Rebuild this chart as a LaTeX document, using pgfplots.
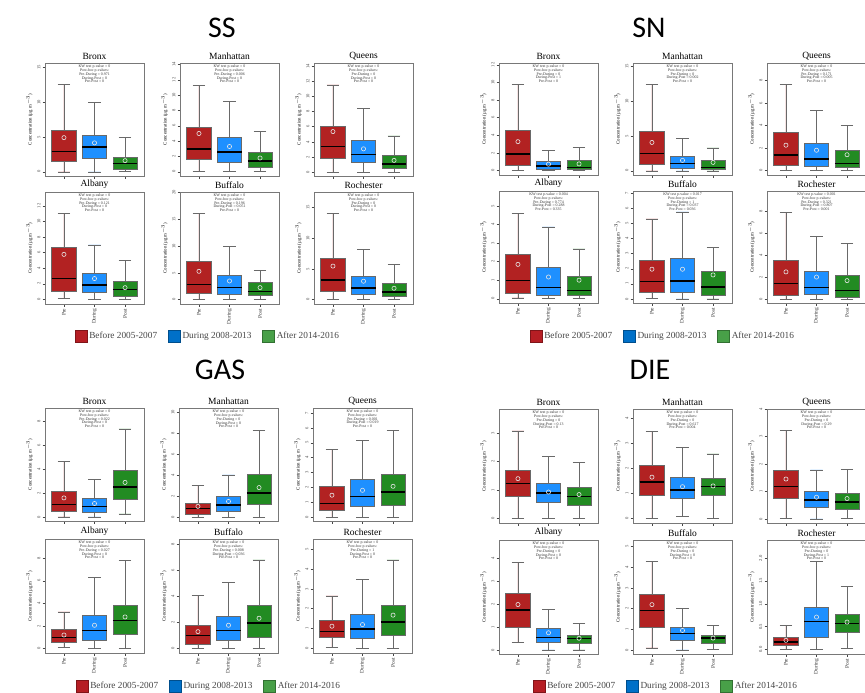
\documentclass[border=0pt]{standalone}
\usepackage{fontspec}
\setmainfont{Liberation Serif}
\newfontfamily\tfont{Carlito}
\usepackage{pgfplots}
\pgfplotsset{compat=1.18}
\usepgfplotslibrary{statistics}
\definecolor{cred}{RGB}{178,34,34}
\definecolor{cblue}{RGB}{30,144,255}
\definecolor{cgreen}{RGB}{34,139,34}
\definecolor{lred}{RGB}{182,30,36}
\definecolor{lblue}{RGB}{0,112,200}
\definecolor{lgreen}{RGB}{72,160,72}
\definecolor{boxgray}{RGB}{105,105,105}
\definecolor{framegray}{RGB}{120,120,120}
\definecolor{tickgray}{RGB}{70,70,70}
\definecolor{meangray}{RGB}{230,230,230}
\definecolor{legtext}{RGB}{70,70,70}

\pgfplotsset{
  sub/.style={scale only axis, anchor=south west, xmin=0.38, xmax=3.62, xtick={1,2,3}, clip=false,
    axis line style={draw=framegray, line width=0.7pt},
    tick align=outside, major tick length=2.5pt, tick style={draw=tickgray, line width=0.45pt},
    xtick pos=lower, ytick pos=left,
    yticklabel style={rotate=90, font=\fontsize{4.6}{5}\selectfont, text=tickgray, inner sep=2pt},
    ylabel={Concentration (µg m$^{-3}$)}, ylabel style={font=\fontsize{4.8}{5}\selectfont, yshift=-1pt},
    title style={font=\fontsize{9.5}{10}\selectfont, inner sep=0pt, yshift=-3pt},
    scaled y ticks=false, /pgf/number format/assume math mode=true},
  pos/.style n args={4}{at={(#1pt,-#2pt)}, width=#3pt, height=#4pt},
  top/.style={xticklabels={}},
  bot/.style={xticklabels={Pre,During,Post}, xticklabel style={rotate=90, anchor=east, font=\fontsize{5.4}{5}\selectfont, text=black!80, inner sep=2pt}},
}

% position, colour, lower whisker, Q1, median, Q3, upper whisker, mean
\newcommand{\bx}[8]{%
\addplot[draw=boxgray, fill=#2, line width=0.6pt, boxplot prepared={draw direction=y, draw position=#1, lower whisker=#3, lower quartile=#4, median=#5, upper quartile=#6, upper whisker=#7, box extend=0.8, whisker extend=0.4, every median/.style={draw=black, line width=1.4pt}}] coordinates {};
\addplot[only marks, mark=o, mark size=2.1pt, mark options={draw=meangray, line width=0.6pt}] coordinates {(#1,#8)};}

\newcommand{\pv}[4]{\node[font=\fontsize{3.9}{3.8}\selectfont, align=center, anchor=north, inner sep=0pt, text=black!80] at (rel axis cs:0.5,0.985) {KW test p-value = #1\\Post-hoc p-values:\\Pre-During = #2\\During-Post = #3\\Pre-Post = #4};}

\newcommand{\leg}[2]{%
\begin{axis}[hide axis, scale only axis, width=1pt, height=1pt, at={(#1pt,-#2pt)}, anchor=center, xmin=0, xmax=1, ymin=0, ymax=1,
  legend columns=3, legend style={at={(0.5,0.5)}, anchor=center, draw=none, fill=none, font=\fontsize{9.3}{10}\selectfont, text=legtext, inner sep=0pt, /tikz/every even column/.append style={column sep=9pt}},
  legend image code/.code={\draw[##1] (0pt,-6pt) rectangle (12pt,6pt);}]
\addlegendimage{fill=lred, draw=lred!70!black, line width=0.3pt}\addlegendentry{Before 2005-2007}
\addlegendimage{fill=lblue, draw=lblue!70!black, line width=0.3pt}\addlegendentry{During 2008-2013}
\addlegendimage{fill=lgreen, draw=lgreen!70!black, line width=0.3pt}\addlegendentry{After 2014-2016}
\end{axis}}

\begin{document}
\begin{tikzpicture}
\useasboundingbox (0,0) rectangle (865pt,-693pt);
\clip (0,0) rectangle (865pt,-693pt);

% ---------------- main titles
\node[font=\tfont\fontsize{30}{30}\selectfont] at (222pt,-28pt) {SS};
\node[font=\tfont\fontsize{30}{30}\selectfont] at (649pt,-28pt) {SN};
\node[font=\tfont\fontsize{30}{30}\selectfont] at (220pt,-370pt) {GAS};
\node[font=\tfont\fontsize{30}{30}\selectfont] at (650pt,-370pt) {DIE};

% ================= SS
\begin{axis}[sub, pos={45}{176}{99}{113}, title=Bronx, ymin=-0.6, ymax=15.6, ytick={0,5,10,15}, top]
\bx{1}{cred}{0}{1.56}{2.9}{6.0}{12.5}{4.9}
\bx{2}{cblue}{0}{1.95}{3.56}{5.3}{10.0}{4.15}
\bx{3}{cgreen}{0.1}{0.4}{1.17}{2.15}{4.9}{1.6}
\pv{0}{0.971}{0}{0}
\end{axis}
\begin{axis}[sub, pos={180}{176}{99}{113}, title=Manhattan, ymin=-0.55, ymax=14.2, ytick={0,2,...,14}, top]
\bx{1}{cred}{0}{1.64}{2.96}{5.75}{11.3}{5.0}
\bx{2}{cblue}{0}{1.2}{2.57}{4.47}{9.2}{3.3}
\bx{3}{cgreen}{0}{0.58}{1.42}{2.52}{5.3}{1.8}
\pv{0}{0.006}{0}{0}
\end{axis}
\begin{axis}[sub, pos={314}{176}{99}{113}, title=Queens, ymin=-0.5, ymax=14.4, ytick={0,2,...,14}, top]
\bx{1}{cred}{0}{1.87}{3.4}{6.0}{11.5}{5.36}
\bx{2}{cblue}{0}{1.3}{2.3}{4.15}{8.44}{3.08}
\bx{3}{cgreen}{0}{0.45}{1.07}{2.19}{4.8}{1.56}
\pv{0}{0}{0}{0}
\end{axis}
\begin{axis}[sub, pos={45}{304}{99}{112}, title=Albany, ymin=-0.6, ymax=13.8, ytick={0,2,...,12}, bot]
\bx{1}{cred}{0.1}{1.03}{2.67}{6.68}{11.0}{5.78}
\bx{2}{cblue}{0}{0.95}{1.85}{3.36}{7.0}{2.67}
\bx{3}{cgreen}{0}{0.35}{1.25}{2.28}{5.0}{1.5}
\pv{0}{0.121}{0}{0}
\end{axis}
\begin{axis}[sub, pos={180}{304}{99}{112}, title=Buffalo, ymin=-0.8, ymax=20.1, ytick={0,5,10,15,20}, bot]
\bx{1}{cred}{0}{1.2}{2.8}{7.2}{16.1}{5.3}
\bx{2}{cblue}{0}{1.0}{2.3}{4.6}{9.9}{3.5}
\bx{3}{cgreen}{0}{0.9}{1.57}{3.3}{5.4}{2.26}
\pv{0}{0.196}{0.051}{0}
\end{axis}
\begin{axis}[sub, pos={314}{304}{99}{112}, title=Rochester, ymin=-0.7, ymax=17.5, ytick={0,5,10,15}, bot]
\bx{1}{cred}{0.1}{1.42}{3.17}{6.7}{14.0}{5.46}
\bx{2}{cblue}{0}{0.93}{1.9}{3.77}{8.2}{3.0}
\bx{3}{cgreen}{0}{0.5}{1.26}{2.62}{5.74}{1.86}
\pv{0}{0}{0}{0}
\end{axis}
\leg{208}{336}

% ================= SN
\begin{axis}[sub, pos={499}{175}{99}{112}, title=Bronx, ymin=-0.5, ymax=12.2, ytick={0,2,...,12}, top]
\bx{1}{cred}{0}{0.65}{1.87}{4.54}{9.77}{3.28}
\bx{2}{cblue}{0}{0.15}{0.53}{1.03}{2.29}{0.73}
\bx{3}{cgreen}{0}{0.1}{0.34}{1.15}{2.6}{0.76}
\pv{0}{0}{1}{0}
\end{axis}
\begin{axis}[sub, pos={633}{175}{99}{112}, title=Manhattan, ymin=-0.6, ymax=15.5, ytick={0,5,10,15}, top]
\bx{1}{cred}{0}{0.97}{2.52}{5.68}{12.4}{4.08}
\bx{2}{cblue}{0}{0.39}{1.07}{2.09}{4.61}{1.5}
\bx{3}{cgreen}{0}{0.15}{0.44}{1.55}{3.3}{1.21}
\pv{0}{0}{0.002}{0}
\end{axis}
\begin{axis}[sub, pos={767}{175}{99}{112}, title=Queens, ymin=-0.4, ymax=9.55, ytick={0,2,...,8}, top]
\bx{1}{cred}{0}{0.45}{1.38}{3.38}{7.66}{2.25}
\bx{2}{cblue}{0}{0.39}{1.02}{2.43}{5.36}{1.8}
\bx{3}{cgreen}{0}{0.24}{0.63}{1.77}{3.98}{1.4}
\pv{0}{0.171}{0.005}{0}
\end{axis}
\begin{axis}[sub, pos={499}{303}{99}{112}, title=Albany, ymin=-0.23, ymax=5.8, ytick={0,...,5}, bot]
\bx{1}{cred}{0.05}{0.29}{0.97}{2.41}{4.6}{1.85}
\bx{2}{cblue}{0}{0.18}{0.6}{1.67}{3.87}{1.17}
\bx{3}{cgreen}{0}{0.18}{0.45}{1.19}{2.68}{1.0}
\pv{0.004}{0.774}{0.288}{0.335}
\end{axis}
\begin{axis}[sub, pos={633}{303}{99}{112}, title=Buffalo, ymin=-0.27, ymax=7.15, ytick={0,...,7}, bot]
\bx{1}{cred}{0.03}{0.45}{1.16}{2.53}{5.3}{1.97}
\bx{2}{cblue}{0}{0.45}{1.19}{2.66}{5.77}{1.97}
\bx{3}{cgreen}{0}{0.27}{0.78}{1.81}{3.42}{1.59}
\pv{0.017}{1}{0.037}{0.036}
\end{axis}
\begin{axis}[sub, pos={767}{303}{99}{112}, title=Rochester, ymin=-0.35, ymax=9.8, ytick={0,2,...,8}, bot]
\bx{1}{cred}{0}{0.37}{1.4}{3.5}{7.85}{2.47}
\bx{2}{cblue}{0}{0.46}{1.07}{2.56}{5.65}{2.0}
\bx{3}{cgreen}{0}{0.2}{0.76}{2.14}{5.04}{1.68}
\pv{0.001}{0.321}{0.807}{0.001}
\end{axis}
\leg{663}{336}

% ================= GAS
\begin{axis}[sub, pos={45}{521}{99}{113}, title=Bronx, ymin=-0.34, ymax=9.15, ytick={0,2,...,8}, top]
\bx{1}{cred}{0}{0.5}{1.04}{2.17}{4.65}{1.6}
\bx{2}{cblue}{0}{0.37}{0.87}{1.58}{3.13}{1.13}
\bx{3}{cgreen}{0.25}{1.52}{2.5}{3.94}{7.4}{2.9}
\pv{0}{0.022}{0}{0}
\end{axis}
\begin{axis}[sub, pos={179}{521}{99}{113}, title=Manhattan, ymin=-0.35, ymax=10.4, ytick={0,2,...,10}, top]
\bx{1}{cred}{0}{0.31}{0.85}{1.38}{3.0}{1.04}
\bx{2}{cblue}{0}{0.6}{1.16}{1.98}{4.03}{1.51}
\bx{3}{cgreen}{0}{1.2}{2.33}{4.12}{8.27}{2.83}
\pv{0}{0}{0}{0}
\end{axis}
\begin{axis}[sub, pos={313}{521}{99}{113}, title=Queens, ymin=-0.27, ymax=7.35, ytick={0,...,7}, top]
\bx{1}{cred}{0}{0.42}{0.91}{2.09}{4.54}{1.47}
\bx{2}{cblue}{0}{0.71}{1.38}{2.52}{5.17}{1.8}
\bx{3}{cgreen}{0}{0.8}{1.69}{2.85}{5.86}{2.07}
\pv{0}{0.001}{0.019}{0}
\end{axis}
\begin{axis}[sub, pos={45}{653}{99}{114}, title=Albany, ymin=-0.38, ymax=9.7, ytick={0,2,...,8}, bot]
\bx{1}{cred}{0.12}{0.56}{1.0}{1.69}{3.26}{1.21}
\bx{2}{cblue}{0}{0.71}{1.6}{2.93}{6.34}{2.07}
\bx{3}{cgreen}{0.05}{1.27}{2.52}{3.88}{7.82}{2.81}
\pv{0}{0.027}{0}{0}
\end{axis}
\begin{axis}[sub, pos={179}{653}{99}{114}, title=Buffalo, ymin=-0.35, ymax=8.4, ytick={0,2,...,8}, bot]
\bx{1}{cred}{0}{0.31}{0.98}{1.8}{4.05}{1.29}
\bx{2}{cblue}{0}{0.62}{1.39}{2.48}{5.06}{1.78}
\bx{3}{cgreen}{0}{0.85}{1.96}{3.35}{6.79}{2.32}
\pv{0}{0.008}{0.036}{0}
\end{axis}
\begin{axis}[sub, pos={313}{653}{99}{114}, title=Rochester, ymin=-0.25, ymax=5.53, ytick={0,...,5}, bot]
\bx{1}{cred}{0.05}{0.55}{0.85}{1.4}{2.65}{1.11}
\bx{2}{cblue}{0}{0.49}{0.97}{1.71}{3.48}{1.19}
\bx{3}{cgreen}{0}{0.65}{1.33}{2.17}{4.47}{1.67}
\pv{0}{1}{0}{0}
\end{axis}
\leg{209}{686}

% ================= DIE
\begin{axis}[sub, pos={499}{523}{99}{114}, title=Bronx, ymin=-0.16, ymax=3.85, ytick={0,...,3}, top]
\bx{1}{cred}{0}{0.77}{1.23}{1.7}{3.08}{1.4}
\bx{2}{cblue}{0}{0.57}{0.89}{1.23}{2.18}{0.93}
\bx{3}{cgreen}{0}{0.47}{0.78}{1.09}{1.98}{0.84}
\pv{0}{0}{0.13}{0}
\end{axis}
\begin{axis}[sub, pos={633}{523}{99}{114}, title=Manhattan, ymin=-0.18, ymax=4.37, ytick={0,...,4}, top]
\bx{1}{cred}{0}{0.92}{1.46}{2.14}{3.47}{1.65}
\bx{2}{cblue}{0.07}{0.81}{1.14}{1.65}{2.84}{1.27}
\bx{3}{cgreen}{0}{0.92}{1.27}{1.62}{2.58}{1.3}
\pv{0}{0}{0.617}{0.004}
\end{axis}
\begin{axis}[sub, pos={767}{523}{99}{114}, title=Queens, ymin=-0.15, ymax=4.0, ytick={0,...,4}, top]
\bx{1}{cred}{0.02}{0.75}{1.18}{1.76}{3.21}{1.45}
\bx{2}{cblue}{0}{0.41}{0.69}{1.0}{1.78}{0.79}
\bx{3}{cgreen}{0.02}{0.36}{0.62}{0.94}{1.81}{0.74}
\pv{0}{0}{0.29}{0}
\end{axis}
\begin{axis}[sub, pos={499}{654}{99}{114}, title=Albany, ymin=-0.18, ymax=4.82, ytick={0,...,4}, bot]
\bx{1}{cred}{0.33}{0.97}{1.75}{2.5}{3.85}{1.99}
\bx{2}{cblue}{0}{0.34}{0.54}{0.93}{1.76}{0.75}
\bx{3}{cgreen}{0}{0.29}{0.49}{0.66}{1.15}{0.51}
\pv{0}{0}{0}{0}
\end{axis}
\begin{axis}[sub, pos={633}{654}{99}{114}, title=Buffalo, ymin=-0.2, ymax=5.32, ytick={0,...,5}, bot]
\bx{1}{cred}{0.1}{1.09}{1.92}{2.68}{4.29}{2.19}
\bx{2}{cblue}{0}{0.44}{0.78}{1.09}{2.01}{0.94}
\bx{3}{cgreen}{0.03}{0.34}{0.57}{0.73}{1.19}{0.57}
\pv{0}{0}{0}{0}
\end{axis}
\begin{axis}[sub, pos={767}{654}{99}{114}, title=Rochester, ymin=-0.1, ymax=2.4, ytick={0,0.5,1,1.5,2}, yticklabel style={/pgf/number format/.cd, fixed, fixed zerofill, precision=1}, bot]
\bx{1}{cred}{0}{0.08}{0.16}{0.26}{0.52}{0.2}
\bx{2}{cblue}{0}{0.26}{0.61}{0.93}{1.93}{0.71}
\bx{3}{cgreen}{0.02}{0.37}{0.57}{0.78}{1.38}{0.6}
\pv{0}{0}{1}{0}
\end{axis}
\leg{666}{686}
\end{tikzpicture}
\end{document}
